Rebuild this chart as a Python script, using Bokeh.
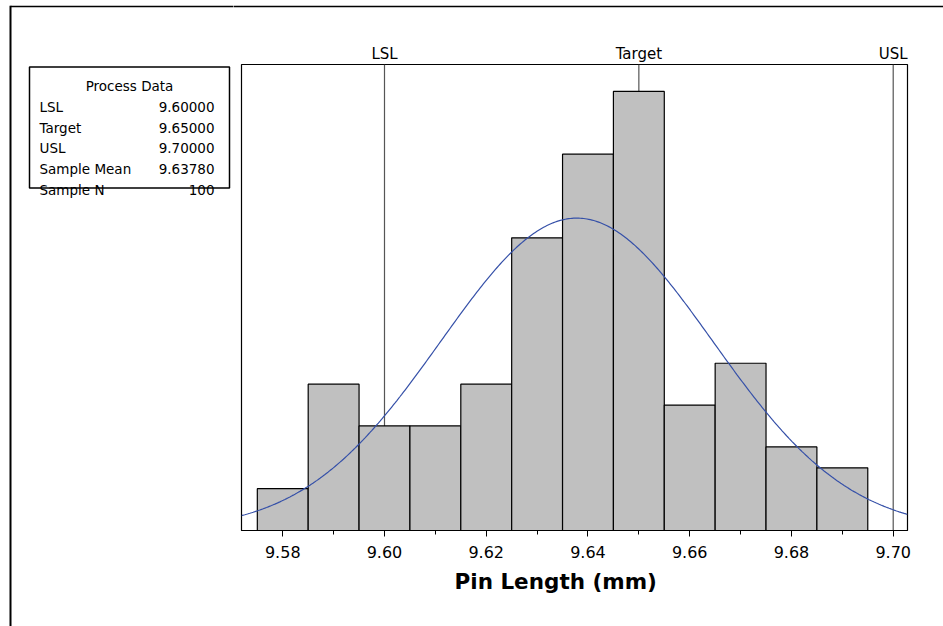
import numpy as np
from bokeh.plotting import figure
from bokeh.layouts import row, column
from bokeh.models import Range1d, LinearAxis, FixedTicker, PrintfTickFormatter, Title
from bokeh.core.properties import value
from bokeh.embed import file_html
from bokeh.resources import INLINE

# ---------------- data ----------------
bin_left = [9.575, 9.585, 9.595, 9.605, 9.615, 9.625, 9.635, 9.645, 9.655, 9.665, 9.675, 9.685]
counts = [2, 7, 5, 5, 7, 14, 18, 21, 6, 8, 4, 3]
BIN_WIDTH = 0.01

spec_names = ["LSL", "Target", "USL"]
spec_values = [9.60, 9.65, 9.70]

process_title = "Process Data"
process_labels = ["LSL", "Target", "USL", "Sample Mean", "Sample N"]
process_values = ["9.60000", "9.65000", "9.70000", "9.63780", "100"]

SAMPLE_MEAN = 9.6378
SAMPLE_SD = 0.0267
SAMPLE_N = 100

x_ticks = [9.58, 9.60, 9.62, 9.64, 9.66, 9.68, 9.70]
x_minor_ticks = [9.59, 9.61, 9.63, 9.65, 9.67, 9.69]
x_label = "Pin Length (mm)"

X_MIN, X_MAX = 9.57189, 9.70281
Y_MAX = 22.29

# ---------------- geometry (page pixels) ----------------
PAGE_W, PAGE_H = 943, 626
STRIP_H = 30
LEFT_W = 233
FRAME_L, FRAME_R, FRAME_T, FRAME_B = 241, 907, 64, 530
FONT = "DejaVu Sans"
BORDER_X, BORDER_Y = 10, 6

# ---- left panel (full height): page border + Process Data table ----
left = figure(width=LEFT_W, height=PAGE_H, output_backend="svg", toolbar_location=None,
              x_range=Range1d(0, LEFT_W), y_range=Range1d(PAGE_H, 0),
              x_axis_location=None, y_axis_location=None, min_border=0, frame_align=False)
left.grid.visible = False
left.outline_line_color = None
left.segment(x0=[BORDER_X], y0=[BORDER_Y - 0.7], x1=[BORDER_X], y1=[PAGE_H + 5],
             line_color="black", line_width=2)
left.segment(x0=[BORDER_X], y0=[BORDER_Y], x1=[LEFT_W + 5], y1=[BORDER_Y],
             line_color="black", line_width=1.5)

row_base = [106, 127, 147.5, 168, 189]
left.text(x=[129], y=[85], text=[process_title], text_align="center", text_baseline="alphabetic",
          text_font=value(FONT), text_font_size="13.5px", text_color="black")
left.text(x=[39] * 5, y=row_base, text=process_labels, text_align="left", text_baseline="alphabetic",
          text_font=value(FONT), text_font_size="13.5px", text_color="black")
left.text(x=[214] * 5, y=row_base, text=process_values, text_align="right", text_baseline="alphabetic",
          text_font=value(FONT), text_font_size="13.5px", text_color="black")
left.quad(left=[29], right=[229], top=[66.5], bottom=[187.5], fill_alpha=0,
          line_color="black", line_width=1.5)

MAIN_W = PAGE_W - LEFT_W

# ---- top strip over the histogram: page border top line ----
strip = figure(width=MAIN_W, height=STRIP_H, output_backend="svg", toolbar_location=None,
               x_range=Range1d(LEFT_W, PAGE_W), y_range=Range1d(STRIP_H, 0),
               x_axis_location=None, y_axis_location=None, min_border=0, frame_align=False)
strip.grid.visible = False
strip.outline_line_color = None
strip.segment(x0=[LEFT_W - 5], y0=[BORDER_Y], x1=[PAGE_W + 5], y1=[BORDER_Y],
              line_color="black", line_width=1.5)

# ---- main histogram ----
MAIN_H = PAGE_H - STRIP_H
p = figure(width=MAIN_W, height=MAIN_H, output_backend="svg", toolbar_location=None,
           x_range=Range1d(X_MIN, X_MAX), y_range=Range1d(0, Y_MAX),
           y_axis_location=None, frame_align=False,
           min_border_left=FRAME_L - LEFT_W, min_border_right=PAGE_W - FRAME_R,
           min_border_top=FRAME_T - STRIP_H, min_border_bottom=PAGE_H - FRAME_B)
p.grid.visible = False
p.outline_line_color = "black"
p.outline_line_width = 1.2
p.background_fill_color = "white"
p.border_fill_color = "white"

# spec lines (behind bars)
p.segment(x0=spec_values, y0=[0] * 3, x1=spec_values, y1=[Y_MAX] * 3,
          line_color="#555555", line_width=1.2)

# histogram bars
bin_right = [b + BIN_WIDTH for b in bin_left]
p.quad(left=bin_left, right=bin_right, bottom=[0] * len(counts), top=counts,
       fill_color="#C0C0C0", line_color="black", line_width=1.2)

# fitted normal curve
xs = np.linspace(X_MIN, X_MAX, 400)
ys = SAMPLE_N * BIN_WIDTH / (SAMPLE_SD * np.sqrt(2 * np.pi)) * np.exp(-0.5 * ((xs - SAMPLE_MEAN) / SAMPLE_SD) ** 2)
p.line(xs, ys, line_color="#3550A8", line_width=1.2)

# bottom axis
ax = p.xaxis[0]
ax.ticker = FixedTicker(ticks=x_ticks, minor_ticks=x_minor_ticks)
ax.formatter = PrintfTickFormatter(format="%.2f")
ax.axis_line_color = "black"
ax.major_tick_in = 0
ax.major_tick_out = 6
ax.minor_tick_in = 0
ax.minor_tick_out = 4
ax.major_label_text_font = FONT
ax.major_label_text_font_size = "16px"
ax.major_label_text_color = "black"
ax.major_label_standoff = 9

# x-axis title (offset to the left, as in the reference)
p.add_layout(Title(text=x_label, align="left", offset=213, standoff=12,
                   text_font=FONT, text_font_style="bold", text_font_size="21.5px",
                   text_color="black"), "below")

# top axis with spec labels
top_ax = LinearAxis(ticker=FixedTicker(ticks=spec_values, minor_ticks=[]),
                    major_label_overrides={v: n for v, n in zip(spec_values, spec_names)},
                    axis_line_color=None, major_tick_line_color=None, minor_tick_line_color=None,
                    major_label_text_font=FONT, major_label_text_font_size="15px",
                    major_label_text_color="black", major_label_standoff=-4)
p.add_layout(top_ax, "above")

layout = row(left, column(strip, p, spacing=0), spacing=0)
open("out.html", "w").write(file_html(layout, INLINE))
